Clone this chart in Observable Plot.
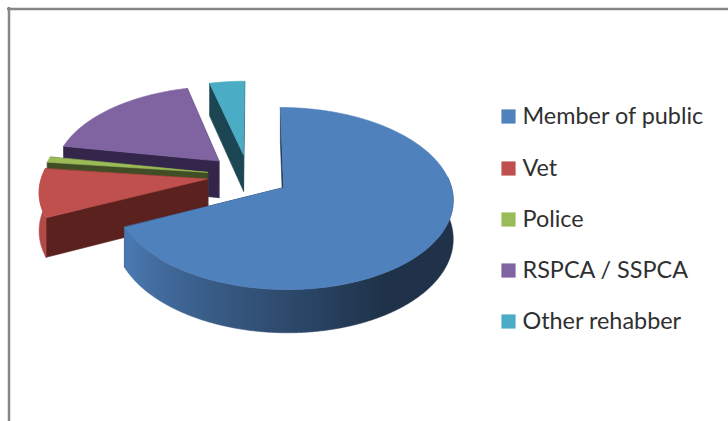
<!DOCTYPE html>
<html>
<head>
<meta charset="utf-8">
<style>html,body{margin:0;padding:0;background:#fff}svg{display:block}</style>
<script src="https://cdn.jsdelivr.net/npm/d3@7"></script>
<script src="https://cdn.jsdelivr.net/npm/@observablehq/plot@0.6"></script>
</head>
<body>
<script>
const categories = ["Member of public", "Vet", "Police", "RSPCA / SSPCA", "Other rehabber"];
const shares = [68.1, 8.8, 1.0, 18.2, 3.9];
const colors = ["#4f81bd", "#c0504d", "#9bbb59", "#8064a2", "#4bacc6"];
const darkSides = ["#1f3350", "#5a211e", "#414e25", "#33264a", "#1c4653"];
const drawOrder = [4, 3, 2, 1, 0];

// view of the tilted pie
const view = {cx: 283, cy: 187, rx: 168, ry: 89.7, k: 0.121, lean: 3.5, depth: 38, explode: 0.25};
const rad = d => d * Math.PI / 180;
const dir = deg => [Math.sin(rad(deg)), Math.cos(rad(deg))];
const project = (px, py, z = 0) => {
  const w = 1 + view.k * py;
  return {
    x: view.cx + (view.rx * px - view.lean * py) / w,
    y: view.cy - view.ry * py / w + z * view.depth / w
  };
};

// slice angles from the shares
const total = d3.sum(shares);
let acc = 0;
const slices = shares.map((v, i) => {
  const a0 = acc / total * 360; acc += v; const a1 = acc / total * 360;
  return {i, a0, a1, mid: (a0 + a1) / 2};
});
const d0 = dir(slices[0].mid);
slices.forEach(s => {
  const d = dir(s.mid);
  s.ax = view.explode * (d[0] - d0[0]);
  s.ay = view.explode * (d[1] - d0[1]);
});

const shade = (c, f) => { const r = d3.rgb(c); return d3.rgb(r.r * f, r.g * f, r.b * f).formatHex(); };
const wallShade = a => a >= 240 ? 0.93 : a <= 150 ? 0.39 : 0.39 + (a - 150) / 90 * 0.54;

let id = 0;
const polys = [];
const gradients = [];
const addPoly = (pts, fill) => { const z = id++; pts.forEach(p => polys.push({x: p.x, y: p.y, z, fill})); };

for (const i of drawOrder) {
  const s = slices[i];
  const rim = (a, z) => { const d = dir(a); return project(s.ax + d[0], s.ay + d[1], z); };
  const apex = z => project(s.ax, s.ay, z);
  const side = a => [apex(0), rim(a, 0), rim(a, 1), apex(1)];
  addPoly(side(s.a1), darkSides[i]);
  addPoly(side(s.a0), darkSides[i]);
  const n = Math.max(2, Math.ceil((s.a1 - s.a0) * 2));
  const angles = d3.range(n + 1).map(j => s.a0 + (s.a1 - s.a0) * j / n);
  const front = angles.filter(a => Math.cos(rad(a)) < 0.12);
  if (front.length > 1) {
    const stops = front.map(a => ({x: rim(a, 0).x, color: shade(colors[i], wallShade(a))})).sort((p, q) => p.x - q.x);
    gradients.push({id: "wall" + i, x1: stops[0].x, x2: stops[stops.length - 1].x, stops});
    addPoly([...front.map(a => rim(a, 0)), ...front.slice().reverse().map(a => rim(a, 1))], "url(#wall" + i + ")");
  }
  addPoly([apex(0), ...angles.map(a => rim(a, 0))], colors[i]);
}

const wallGradients = () => {
  const defs = d3.create("svg:defs");
  for (const g of gradients) {
    const lg = defs.append("linearGradient").attr("id", g.id).attr("gradientUnits", "userSpaceOnUse")
      .attr("x1", g.x1).attr("x2", g.x2).attr("y1", 0).attr("y2", 0);
    for (const st of g.stops) {
      lg.append("stop").attr("offset", (st.x - g.x1) / (g.x2 - g.x1)).attr("stop-color", st.color);
    }
  }
  return defs.node();
};

const legendX = 508, legendTextX = 522, legendY = [116, 168, 219, 270, 321];
const legend = categories.map((name, i) => ({name, color: colors[i], y: legendY[i]}));

const plot = Plot.plot({
  width: 728, height: 421, margin: 0,
  x: {domain: [0, 728], range: [0, 728], axis: null},
  y: {domain: [0, 421], range: [0, 421], axis: null},
  color: {type: "identity"},
  style: {background: "#fff"},
  marks: [
    wallGradients,
    Plot.ruleY([8.5], {x1: 7, x2: 728, stroke: "#868686", strokeWidth: 2.5}),
    Plot.ruleX([8.5], {y1: 7, y2: 421, stroke: "#868686", strokeWidth: 2.5}),
    Plot.line(polys, {x: "x", y: "y", z: "z", fill: "fill", stroke: "fill", strokeWidth: 0.6, curve: "linear-closed"}),
    Plot.dot(legend, {x: legendX, y: "y", symbol: "square", r: 8, fill: "color", stroke: "none"}),
    Plot.text(legend, {x: legendTextX, y: "y", text: "name", textAnchor: "start", fill: "#303030", fontSize: 23.4, fontFamily: "Lato"})
  ]
});
document.body.appendChild(plot);
</script>
</body>
</html>
